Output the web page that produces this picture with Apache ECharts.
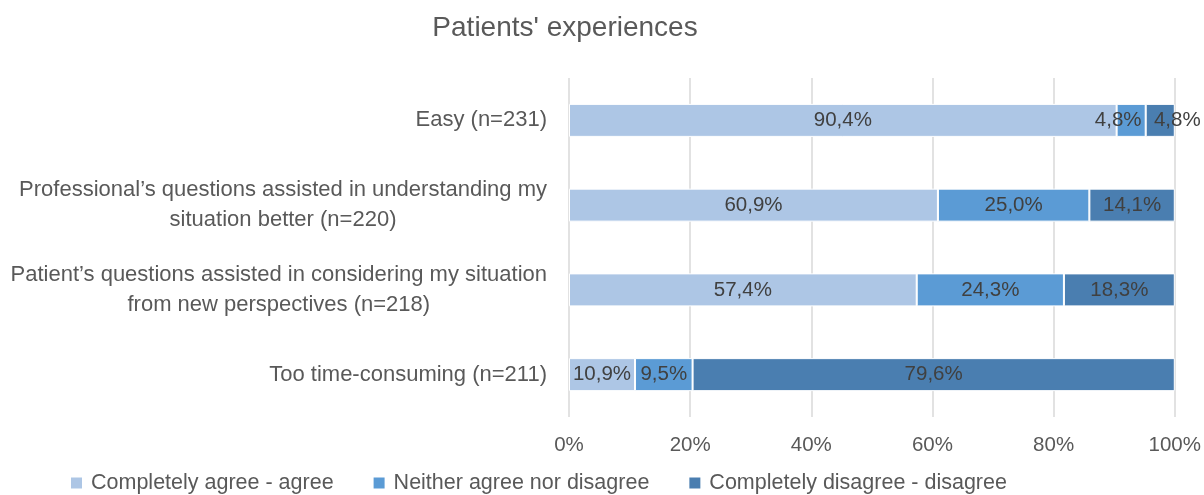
<!DOCTYPE html>
<html>
<head>
<meta charset="utf-8">
<script src="https://cdn.jsdelivr.net/npm/echarts@6/dist/echarts.min.js"></script>
<style>
  html, body { margin: 0; padding: 0; background: #fff; }
  #chart { width: 1204px; height: 495px; }
</style>
</head>
<body>
<div id="chart"></div>
<script>
// categories, top to bottom
const categories = [
  'Easy (n=231)',
  'Professional\u2019s questions assisted in understanding my\nsituation better (n=220)',
  'Patient\u2019s questions assisted in considering my situation\nfrom new perspectives (n=218)',
  'Too time-consuming (n=211)'
];
const seriesNames = ['Completely agree - agree', 'Neither agree nor disagree', 'Completely disagree - disagree'];
const agree = [90.4, 60.9, 57.4, 10.9];
const neither = [4.8, 25.0, 24.3, 9.5];
const disagree = [4.8, 14.1, 18.3, 79.6];
const tickValues = [0, 20, 40, 60, 80, 100];

const colors = ['#adc6e5', '#5b9bd5', '#4a7eb0'];
const font = '"Liberation Sans", Arial, sans-serif';

// small label nudges so the narrow "Easy" segments don't collide (like Excel does)
const labelShift = [null, { 0: [-13, 0] }, { 0: [17, 0] }];

const fmt = v => v.toFixed(1).replace('.', ',') + '%';

const makeSeries = (name, data, i) => ({
  name: name,
  type: 'bar',
  stack: 'total',
  barWidth: 33,
  data: data.map((v, j) => {
    const off = labelShift[i] && labelShift[i][j];
    return off ? { value: v, label: { offset: off } } : v;
  }),
  itemStyle: { color: colors[i], borderColor: '#ffffff', borderWidth: 1 },
  label: {
    show: true,
    position: 'inside',
    color: '#404040',
    fontFamily: font,
    fontSize: 20.5,
    formatter: p => fmt(p.value)
  }
});

const chart = echarts.init(document.getElementById('chart'));
chart.setOption({
  animation: false,
  color: colors,
  title: {
    text: "Patients' experiences",
    left: 560,
    textAlign: 'center',
    top: 9,
    textStyle: { fontFamily: font, fontSize: 28, fontWeight: 'normal', color: '#595959' }
  },
  legend: {
    bottom: -4,
    left: 64,
    itemWidth: 13,
    itemHeight: 13,
    itemGap: 38,
    icon: 'rect',
    textStyle: { fontFamily: font, fontSize: 21.5, color: '#595959', padding: [0, 0, 0, 3] },
    data: seriesNames
  },
  grid: { left: 569, right: 27, top: 78, bottom: 78 },
  xAxis: {
    type: 'value',
    min: 0,
    max: 100,
    interval: 20,
    axisLine: { show: false },
    axisTick: { show: false },
    splitLine: { lineStyle: { color: '#d9d9d9', width: 1.5 } },
    axisLabel: {
      fontFamily: font,
      fontSize: 20.5,
      color: '#595959',
      margin: 18,
      formatter: v => tickValues.includes(v) ? v + '%' : ''
    }
  },
  yAxis: {
    type: 'category',
    inverse: true,
    data: categories,
    axisLine: { show: false },
    axisTick: { show: false },
    axisLabel: {
      fontFamily: font,
      fontSize: 22,
      color: '#595959',
      align: 'right',
      margin: 22,
      formatter: v => v.split('\n').map(s => '{c|' + s + '}').join('\n'),
      rich: {
        c: { align: 'center', fontFamily: font, fontSize: 22, color: '#595959', lineHeight: 30 }
      }
    }
  },
  series: [
    makeSeries(seriesNames[0], agree, 0),
    makeSeries(seriesNames[1], neither, 1),
    makeSeries(seriesNames[2], disagree, 2)
  ]
});
</script>
</body>
</html>
